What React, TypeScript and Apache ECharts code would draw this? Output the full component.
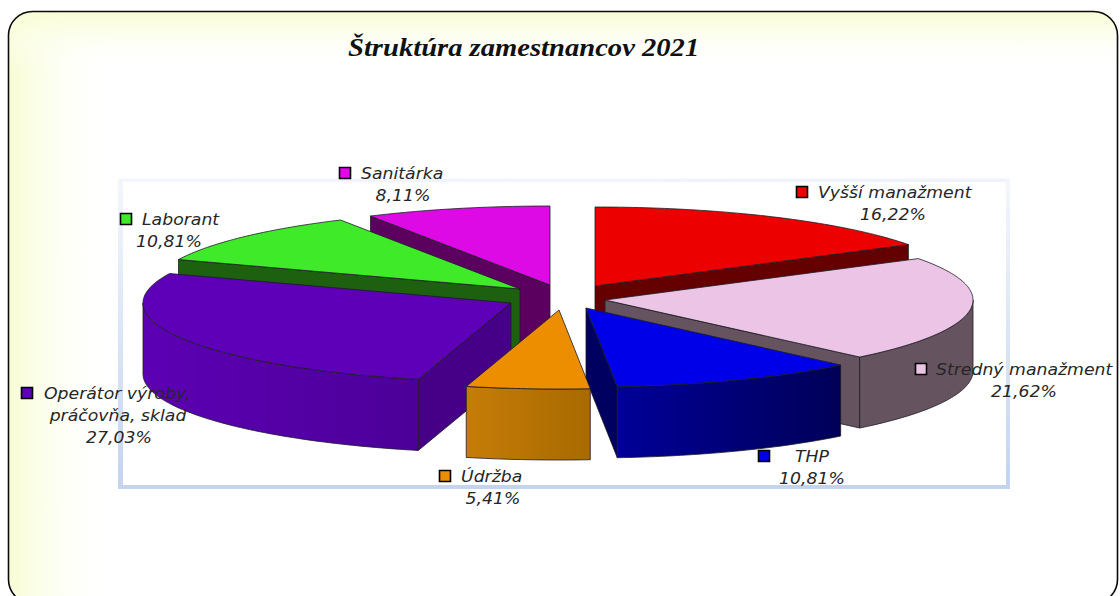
import React, { useEffect, useRef } from "react";
import * as echarts from "echarts";

const categories = ["Vyšší manažment", "Stredný manažment", "THP", "Údržba", "Operátor výroby,\npráčovňa, sklad", "Laborant", "Sanitárka"];
const values = [16.22, 21.62, 10.81, 5.41, 27.03, 10.81, 8.11];
const titleText = "Štruktúra zamestnancov 2021";

// colours per slice
const topColors = ["#ec0000", "#ecc4e6", "#0000e8", "#ec8e00", "#5e00b8", "#3fea28", "#de0ae6"];
const sideColors = ["#640000", "#65545f", "#000060", "#a86a00", "#460088", "#1d6010", "#5c0060"];
const rimFrom = ["#8a0000", "#65545f", "#000098", "#c67c08", "#5c00b4", "#1d6010", "#5c0060"];
const rimTo = ["#640000", "#65545f", "#000058", "#a86a00", "#4c0098", "#1d6010", "#5c0060"];

// pie layout: oblique projection and the pull-out of each slice
const CX = 562, CY = 297, RX = 368, RY = 79, DEPTH = 71;
const pullX = [33, 43, 24, -3, -51, -42, -12];
const pullY = [-11, 3, 11, 13, 6, -8, -12];
const paintOrder = [1, 5, 6, 7, 4, 3, 2];

// label layout
const keyX = [796, 915, 758, 439, 21, 120, 339];
const keyY = [186, 363, 450, 470, 387, 213, 167];
const nameX = [818, 936, 795, 461, 44, 142, 361];
const pctX = [893, 1024, 812, 493, 119, 169, 403];
const secondLineX = 118;

const FONT = "DejaVu Sans";
const TEXT_STRETCH = 1.08;
const total = values.reduce((a, b) => a + b, 0);
const rad = (d: number) => (d * Math.PI) / 180;

function arcPoints(ax: number, ay: number, a0: number, a1: number, dy: number) {
  const pts: number[][] = [];
  const n = Math.max(2, Math.ceil(Math.abs(a1 - a0)));
  for (let i = 0; i <= n; i++) {
    const a = rad(a0 + ((a1 - a0) * i) / n);
    pts.push([ax + RX * Math.sin(a), ay - RY * Math.cos(a) + dy]);
  }
  return pts;
}

function renderSlice(params: any, api: any) {
  const i = params.dataIndex;
  const v = api.value(0);
  let before = 0;
  for (let k = 0; k < i; k++) before += values[k];
  const a0 = (before / total) * 360;
  const a1 = ((before + v) / total) * 360;
  const ax = CX + pullX[i], ay = CY + pullY[i];
  const z2 = paintOrder[i] * 10;
  const line = { stroke: "#1c1c24", lineWidth: 0.8 };
  const children: any[] = [];

  const radialWall = (a: number, normal: number, z: number) => {
    if (Math.cos(rad(normal)) >= -0.001) return;
    const p = arcPoints(ax, ay, a, a, 0)[0];
    children.push({
      type: "polygon", z2: z,
      shape: { points: [[ax, ay], p, [p[0], p[1] + DEPTH], [ax, ay + DEPTH]] },
      style: { fill: sideColors[i], ...line },
    });
  };
  radialWall(a0, a0 - 90, z2);
  radialWall(a1, a1 + 90, z2);

  const r0 = Math.max(a0, 90), r1 = Math.min(a1, 270);
  if (r1 > r0) {
    const upper = arcPoints(ax, ay, r0, r1, 0);
    const lower = arcPoints(ax, ay, r0, r1, DEPTH).reverse();
    children.push({
      type: "polygon", z2: z2 + 1,
      shape: { points: upper.concat(lower) },
      style: {
        fill: new echarts.graphic.LinearGradient(0, 0, 1, 0, [
          { offset: 0, color: rimFrom[i] },
          { offset: 1, color: rimTo[i] },
        ]),
        ...line,
      },
    });
  }

  children.push({
    type: "polygon", z2: z2 + 2,
    shape: { points: [[ax, ay]].concat(arcPoints(ax, ay, a0, a1, 0)) },
    style: { fill: topColors[i], ...line },
  });

  // legend key and label
  const lines = categories[i].split("\n");
  const textStyle = { fontFamily: FONT, fontStyle: "italic", fontSize: 16, fill: "#262626", verticalAlign: "middle" };
  const kx = keyX[i], ky = keyY[i];
  children.push({
    type: "rect", z2: 200,
    shape: { x: kx + 0.5, y: ky + 0.5, width: 11, height: 11 },
    style: { fill: topColors[i], stroke: "#000", lineWidth: 1.6 },
  });
  const nameY = ky + 6.5;
  children.push({
    type: "text", z2: 201, x: nameX[i], y: nameY, scaleX: TEXT_STRETCH,
    style: { ...textStyle, text: lines[0], align: "left" },
  });
  if (lines[1]) {
    children.push({
      type: "text", z2: 201, x: secondLineX, y: nameY + 22, scaleX: TEXT_STRETCH,
      style: { ...textStyle, text: lines[1], align: "center" },
    });
  }
  children.push({
    type: "text", z2: 201, x: pctX[i], y: nameY + (lines[1] ? 44 : 22), scaleX: TEXT_STRETCH,
    style: { ...textStyle, text: v.toFixed(2).replace(".", ",") + "%", align: "center" },
  });
  return { type: "group", children };
}

const YELLOW = "#f8fdd4";
const CLEAR = "rgba(255,255,255,0)";
const BOX = "#c4d4ef";
const BOX_FAINT = "#f3f6fc";

export default function App() {
  const ref = useRef<HTMLDivElement>(null);
  useEffect(() => {
    document.body.style.margin = "0";
    document.body.style.background = "#ffffff";
    const chart = echarts.init(ref.current!, undefined, { renderer: "svg" });
    const grad = (x: number, y: number, x2: number, y2: number, a: string, b: string) =>
      new echarts.graphic.LinearGradient(x, y, x2, y2, [
        { offset: 0, color: a },
        { offset: 1, color: b },
      ]);
    chart.setOption({
      animation: false,
      backgroundColor: "#ffffff",
      graphic: [
        { type: "rect", silent: true, shape: { x: 9, y: 12, width: 105, height: 590, r: [24, 0, 0, 24] }, style: { fill: grad(0, 0, 1, 0, YELLOW, CLEAR) } },
        { type: "rect", silent: true, shape: { x: 9, y: 12, width: 1109, height: 58, r: [24, 24, 0, 0] }, style: { fill: grad(0, 0, 0, 1, YELLOW, CLEAR) } },
        { type: "rect", silent: true, shape: { x: 8.5, y: 11.5, width: 1109, height: 592, r: 24 }, style: { fill: "none", stroke: "#0a0a0a", lineWidth: 1.6 } },
        { type: "rect", silent: true, shape: { x: 118, y: 178.5, width: 892, height: 3.5 }, style: { fill: grad(0, 0, 1, 0, BOX_FAINT, "#eef2fa") } },
        { type: "rect", silent: true, shape: { x: 118, y: 179, width: 5, height: 310 }, style: { fill: grad(0, 0, 0, 1, BOX_FAINT, BOX) } },
        { type: "rect", silent: true, shape: { x: 1006, y: 179, width: 4, height: 310 }, style: { fill: grad(0, 0, 0, 1, BOX_FAINT, BOX) } },
        { type: "rect", silent: true, shape: { x: 118, y: 485, width: 892, height: 4 }, style: { fill: BOX } },
        {
          type: "text", silent: true, x: 348, y: 47, scaleX: 1.1,
          style: { text: titleText, fontFamily: "Liberation Serif", fontStyle: "italic", fontWeight: "bold", fontSize: 26, fill: "#111", verticalAlign: "middle", align: "left" },
        },
      ],
      series: [
        {
          type: "custom",
          coordinateSystem: "none",
          silent: true,
          renderItem: renderSlice,
          data: values.map((v, i) => ({ name: categories[i], value: [v] })),
        },
      ],
    });
    return () => chart.dispose();
  }, []);
  return <div ref={ref} style={{ position: "absolute", left: 0, top: 0, width: 1120, height: 596, overflow: "hidden" }} />;
}
